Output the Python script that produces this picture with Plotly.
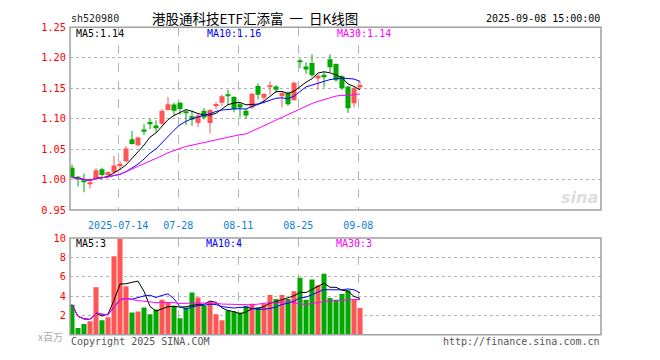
import math
import pandas as pd
import plotly.graph_objects as go

# ---------------- data ----------------
dates = [d.strftime("%Y-%m-%d") for d in pd.bdate_range("2025-07-02", "2025-09-08")]

opens = [1.0194, 1.0044, 0.9976, 0.9933, 1.0003, 1.0167, 1.0071, 1.0119, 1.0225, 1.0298,
         1.0663, 1.0563, 1.0822, 1.0944, 1.0886, 1.0917, 1.1140, 1.1230, 1.1262, 1.1119,
         1.1040, 1.0929, 1.1130, 1.0929, 1.1203, 1.1262, 1.1394, 1.1357, 1.1235, 1.1130,
         1.1182, 1.1537, 1.1341, 1.1516, 1.1527, 1.1368, 1.1420, 1.1305, 1.1949, 1.1854,
         1.1913, 1.1659, 1.1722, 1.1976, 1.1897, 1.1695, 1.1527, 1.1251, 1.1527]
highs = [1.0246, 1.0055, 1.0098, 1.0019, 1.0187, 1.0194, 1.0130, 1.0389, 1.0302, 1.0548,
         1.0797, 1.0706, 1.0908, 1.0997, 1.0971, 1.1156, 1.1357, 1.1262, 1.1273, 1.1140,
         1.1130, 1.1076, 1.1171, 1.1156, 1.1273, 1.1394, 1.1473, 1.1368, 1.1262, 1.1167,
         1.1420, 1.1579, 1.1420, 1.1616, 1.1553, 1.1447, 1.1447, 1.1606, 1.1987, 1.1924,
         1.2056, 1.1727, 1.1765, 1.2056, 1.1908, 1.1711, 1.1537, 1.1527, 1.1616]
lows = [1.0024, 0.9886, 0.9790, 0.9849, 0.9990, 1.0035, 1.0060, 1.0098, 1.0150, 1.0283,
        1.0575, 1.0548, 1.0733, 1.0829, 1.0775, 1.0892, 1.1130, 1.1050, 1.1067, 1.0892,
        1.0881, 1.0865, 1.0987, 1.0759, 1.1156, 1.1210, 1.1225, 1.1103, 1.1024, 1.0997,
        1.1156, 1.1314, 1.1246, 1.1394, 1.1420, 1.1182, 1.1210, 1.1289, 1.1829, 1.1738,
        1.1686, 1.1473, 1.1511, 1.1765, 1.1606, 1.1473, 1.1092, 1.1182, 1.1473]
closes = [1.0035, 1.0003, 0.9955, 0.9949, 1.0151, 1.0076, 1.0124, 1.0230, 1.0257, 1.0511,
          1.0584, 1.0690, 1.0786, 1.0908, 1.0854, 1.1130, 1.1235, 1.1130, 1.1156, 1.1092,
          1.0987, 1.1051, 1.1019, 1.1140, 1.1241, 1.1368, 1.1378, 1.1156, 1.1182, 1.1050,
          1.1409, 1.1394, 1.1405, 1.1537, 1.1473, 1.1420, 1.1235, 1.1590, 1.1933, 1.1806,
          1.1711, 1.1702, 1.1695, 1.1844, 1.1632, 1.1500, 1.1171, 1.1500, 1.1553]
volumes = [3.1, 0.7, 1.1, 1.4, 4.9, 1.5, 1.8, 8.1, 9.9, 5.0,
           2.3, 2.4, 2.8, 2.1, 2.6, 3.6, 3.35, 3.0, 1.7, 2.8,
           4.35, 3.85, 3.0, 3.4, 2.1, 1.5, 2.5, 2.4, 2.3, 3.0,
           3.2, 2.8, 3.2, 4.1, 3.7, 4.1, 3.7, 4.5, 5.9, 3.6,
           5.7, 5.1, 6.3, 3.8, 3.6, 4.2, 4.6, 3.6, 2.75]

tick_dates = ["2025-07-14", "2025-07-28", "2025-08-11", "2025-08-25", "2025-09-08"]
tick_labels = ["2025-07-14", "07-28", "08-11", "08-25", "09-08"]
price_ticks = [0.95, 1.00, 1.05, 1.10, 1.15, 1.20, 1.25]
vol_ticks = [2, 4, 6, 8, 10]

# ---------------- styling ----------------
W, H = 660, 360
RED = "#ff5555"
GREEN = "#00a800"
MONO = "DejaVu Sans Mono"
CJK = "Noto Sans CJK SC"
BOX_L, BOX_R = 70, 601
MAIN_T, MAIN_B = 22, 211
VOL_T, VOL_B = 240, 340


def fx(x):
    return x / W


def fy(y):
    return 1 - y / H


n = len(dates)
idx = list(range(n))
up = [c >= o for o, c in zip(opens, closes)]
cols = [RED if u else GREEN for u in up]

close_s = pd.Series(closes)
vol_s = pd.Series(volumes)
ma = {k: close_s.rolling(k, min_periods=1).mean() for k in (5, 10, 30)}
vma = {k: vol_s.rolling(k, min_periods=1).mean() for k in (5, 10, 30)}
ma_cols = {5: "#000000", 10: "#0000ff", 30: "#ff00ff"}

fig = go.Figure()

# wicks
for colr, flag in ((RED, True), (GREEN, False)):
    xs, ys = [], []
    for i in idx:
        if up[i] == flag:
            xs += [i, i, None]
            ys += [lows[i], highs[i], None]
    fig.add_trace(go.Scatter(x=xs, y=ys, mode="lines", line=dict(color=colr, width=1),
                             xaxis="x", yaxis="y", hoverinfo="skip"))

# bodies
fig.add_trace(go.Bar(
    x=idx,
    base=[min(o, c) for o, c in zip(opens, closes)],
    y=[max(abs(c - o), 0.0012) for o, c in zip(opens, closes)],
    marker=dict(color=cols, line=dict(width=0)),
    width=0.84, xaxis="x", yaxis="y", hoverinfo="skip"))

# price MA lines
for k in (5, 10, 30):
    fig.add_trace(go.Scatter(x=idx, y=ma[k], mode="lines",
                             line=dict(color=ma_cols[k], width=1),
                             xaxis="x", yaxis="y", hoverinfo="skip"))

# volume bars
fig.add_trace(go.Bar(x=idx, y=volumes, marker=dict(color=cols, line=dict(width=0)),
                     width=0.84, xaxis="x2", yaxis="y2", hoverinfo="skip"))
for k in (5, 10, 30):
    fig.add_trace(go.Scatter(x=idx, y=vma[k], mode="lines",
                             line=dict(color=ma_cols[k], width=1),
                             xaxis="x2", yaxis="y2", hoverinfo="skip"))

# axes
x_left = (BOX_L - 72) / 6.0
x_right = n - 1 + (BOX_R - 360) / 6.0
tick_pos = [dates.index(d) - 0.3 for d in tick_dates]
grid_c = "#b4b4b4"

fig.update_layout(
    width=W, height=H, margin=dict(l=0, r=0, t=0, b=0),
    paper_bgcolor="white", plot_bgcolor="white", showlegend=False,
    barmode="overlay", hovermode=False,
    xaxis=dict(domain=[fx(BOX_L), fx(BOX_R)], range=[x_left, x_right], anchor="y",
               tickvals=tick_pos, ticktext=tick_labels, ticks="",
               tickfont=dict(family=MONO, size=10, color="#0a80d8"),
               showgrid=True, gridcolor=grid_c, griddash="dash", gridwidth=1,
               zeroline=False, showline=False, ticklabelstandoff=8),
    yaxis=dict(domain=[fy(MAIN_B), fy(MAIN_T)], range=[0.95, 1.25], anchor="x",
               tickvals=price_ticks, tickformat=".2f", ticks="",
               tickfont=dict(family=MONO, size=10.3, color="#ff0000"),
               showgrid=True, gridcolor=grid_c, griddash="dot", gridwidth=1,
               zeroline=False, showline=False, ticklabelstandoff=3),
    xaxis2=dict(domain=[fx(BOX_L), fx(BOX_R)], range=[x_left, x_right], anchor="y2",
                tickvals=tick_pos, showticklabels=False, ticks="",
                showgrid=True, gridcolor=grid_c, griddash="dash", gridwidth=1,
                zeroline=False, showline=False),
    yaxis2=dict(domain=[fy(VOL_B), fy(VOL_T)], range=[0, 10], anchor="x2",
                tickvals=vol_ticks, ticks="",
                tickfont=dict(family=MONO, size=10.3, color="#ff0000"),
                showgrid=True, gridcolor=grid_c, griddash="dot", gridwidth=1,
                zeroline=False, showline=False, ticklabelstandoff=3),
)

# frames
for t, b in ((MAIN_T, MAIN_B), (VOL_T, VOL_B)):
    fig.add_shape(type="rect", xref="paper", yref="paper",
                  x0=fx(BOX_L), x1=fx(BOX_R), y0=fy(b), y1=fy(t),
                  line=dict(color="#a0a0a0", width=1.5), layer="above")


def trunc(v, d):
    f = 10 ** d
    return math.floor(v * f) / f


def label(x, y, text, color, size=10, family=MONO, anchor="left"):
    fig.add_annotation(x=fx(x), y=fy(y), xref="paper", yref="paper", text=text,
                       showarrow=False, xanchor=anchor, yanchor="middle", borderpad=0,
                       font=dict(family=family, size=size, color=color))


label(70, 13, "sh520980", "#222222")
label(151, 12, "港股通科技ETF汇添富  一  日K线图", "#000000", size=13.5, family=CJK)
label(601, 13, "2025-09-08 15:00:00", "#000000", anchor="right")

label(75, 28, f"MA5:{trunc(ma[5].iloc[-1], 2):.2f}", ma_cols[5])
label(206, 28, f"MA10:{trunc(ma[10].iloc[-1], 2):.2f}", ma_cols[10])
label(336, 28, f"MA30:{trunc(ma[30].iloc[-1], 2):.2f}", ma_cols[30])

label(75, 246, f"MA5:{int(vma[5].iloc[-1])}", ma_cols[5])
label(205, 246, f"MA10:{int(vma[10].iloc[-1])}", ma_cols[10])
label(335, 246, f"MA30:{int(vma[30].iloc[-1])}", ma_cols[30])

label(64, 342, "x百万", "#aaaaaa", size=10, family=CJK, anchor="right")
label(70, 347, "Copyright 2025 SINA.COM", "#555555")
label(601, 347, "http://finance.sina.com.cn", "#555555", anchor="right")

fig.add_annotation(x=fx(599), y=fy(198), xref="paper", yref="paper", text="<b><i>sina</i></b>",
                   showarrow=False, xanchor="right", yanchor="middle", borderpad=0,
                   font=dict(family="DejaVu Sans", size=16, color="#dddddd"))

fig.write_html("out.html")
